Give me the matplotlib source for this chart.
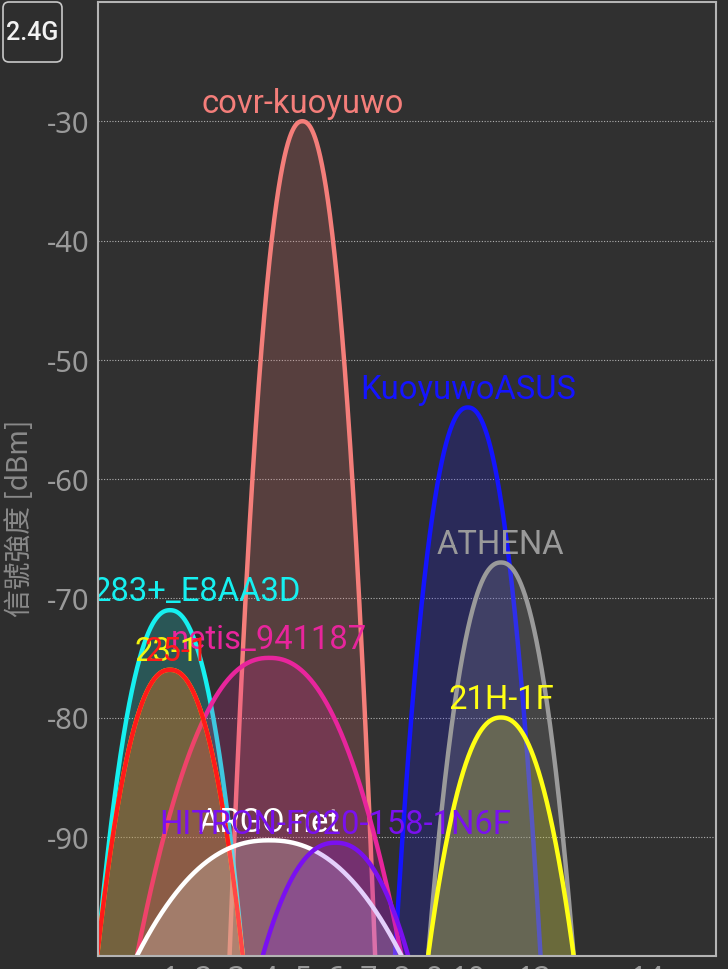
import matplotlib
matplotlib.use("Agg")
import matplotlib.pyplot as plt
import numpy as np
from matplotlib.patches import FancyBboxPatch

# ---- data ----
names = ["covr-kuoyuwo", "KuoyuwoASUS", "ATHENA", "283+_E8AA3D", "netis_941187",
         "23-1", "25-1", "21H-1F", "HITRON-F020-158-1N6F", "ARGO.net"]
channels = [5, 10, 11, 1, 4, 1, 1, 11, 6, 4]
levels = [-30, -54, -67, -71, -75, -76, -76, -80, -90.5, -90.3]
widths_mhz = [20, 20, 20, 20, 40, 20, 20, 20, 20, 40]
colors = ["#f47e7a", "#1414ff", "#9a9a9a", "#16f0f0", "#e8259c",
          "#f4f40e", "#ff1a1a", "#ffff14", "#7a10f0", "#ffffff"]

tick_channels = [1, 2, 3, 4, 5, 6, 7, 8, 9, 10, 12, 14]
y_ticks = [-90, -80, -70, -60, -50, -40, -30]
y_label = "信號強度 [dBm]"
band_label = "2.4G"

BG = "#2e2e2e"
AXBG = "#303030"


def ch_to_x(ch):
    return ch if ch < 14 else 13 + 12 / 5.0


fig = plt.figure(figsize=(7.28, 9.70), dpi=100, facecolor=BG)
ax = fig.add_axes([98 / 728, 1 - 957 / 970, (716 - 98) / 728, (957 - 3) / 970])
ax.set_facecolor(AXBG)
XMIN, XMAX = -1.175, 17.5
YMIN, YMAX = -100, -20
ax.set_xlim(XMIN, XMAX)
ax.set_ylim(YMIN, YMAX)

label_dx = {"23-1": -2.5, "25-1": 4.5, "283+_E8AA3D": -4}

order = sorted(range(len(names)), key=lambda i: -levels[i])
p = 2.25
for z, i in enumerate(order):
    cx = ch_to_x(channels[i])
    hw = (11 if widths_mhz[i] == 20 else 20) / 5.0
    u = np.linspace(-1, 1, 500)
    x = cx + hw * u
    y = YMIN + (levels[i] - YMIN) * (1 - np.abs(u) ** p)
    ax.fill_between(x, y, YMIN, color=colors[i], alpha=0.2, lw=0, zorder=3 + z * 0.1)
    ax.plot(x, y, color=colors[i], lw=3.2, zorder=3 + z * 0.1 + 0.05, solid_capstyle="butt")
    if names[i] == "283+_E8AA3D":
        tx, ha = XMIN, "left"
    else:
        tx, ha = cx, "center"
    dx = label_dx.get(names[i], 0)
    ax.annotate(names[i], (tx, levels[i]), xytext=(dx, 7), textcoords="offset points",
                ha=ha, va="baseline", color=colors[i], fontsize=23.6,
                fontfamily="Roboto", zorder=10 + z * 0.1, annotation_clip=False,
                clip_on=True)

ax.set_yticks(y_ticks)
ax.set_yticklabels([str(v) for v in y_ticks])
ax.set_xticks([ch_to_x(c) for c in tick_channels])
ax.set_xticklabels([str(c) for c in tick_channels])
ax.tick_params(axis="y", length=0, pad=6, labelsize=21, labelcolor="#9a9a9a")
ax.tick_params(axis="x", length=0, pad=6, labelsize=22, labelcolor="#9a9a9a")
for lab in ax.get_yticklabels() + ax.get_xticklabels():
    lab.set_fontfamily("Noto Sans")
ax.yaxis.grid(True, linestyle=(0, (1, 1.5)), color="#b0b0b0", lw=0.8, zorder=1)
ax.xaxis.grid(False)
for s in ax.spines.values():
    s.set_color("#b4b4b4")
    s.set_linewidth(1.5)
    s.set_zorder(20)

fig.text(20 / 728, 1 - 518 / 970, y_label, rotation=90, ha="center", va="center",
         color="#8a8a8a", fontsize=20, fontfamily=["Noto Sans CJK TC", "DejaVu Sans"])

box = FancyBboxPatch((0.03, (970 - 63) / 100), 0.59, 0.60,
                     boxstyle="round,pad=0,rounding_size=0.06",
                     transform=fig.dpi_scale_trans, fc=BG, ec="#c8c8c8", lw=1.2)
fig.patches.append(box)
fig.text(32.5 / 728, 1 - 33 / 970, band_label, ha="center", va="center",
         color="#f2f2f2", fontsize=18, fontfamily="Roboto", fontweight="medium")

fig.savefig("out.png", dpi=100, facecolor=BG)
